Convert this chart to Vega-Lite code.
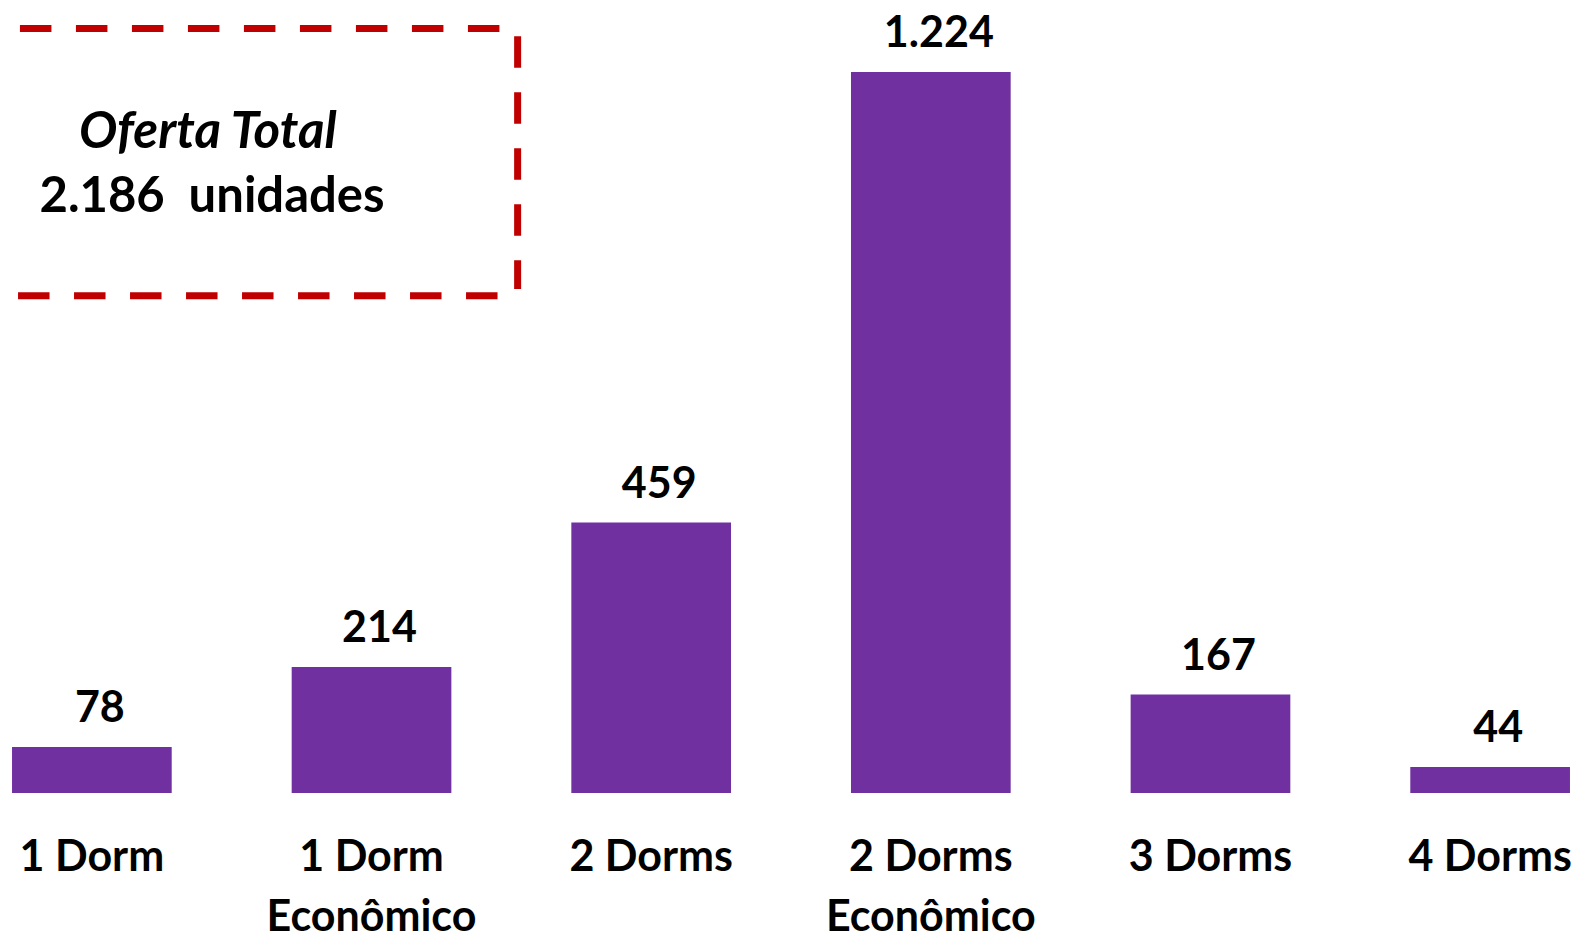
{
  "$schema": "https://vega.github.io/schema/vega-lite/v6.json",
  "width": 1582,
  "height": 793,
  "autosize": {"type": "none"},
  "padding": {"left": 0, "top": 0, "right": 0, "bottom": 139},
  "background": "white",
  "config": {"view": {"stroke": null}, "font": "Lato"},
  "datasets": {
    "bars": [
      {"cat": "1 Dorm", "value": 78, "label": "78"},
      {"cat": "1 Dorm|Econômico", "value": 214, "label": "214"},
      {"cat": "2 Dorms", "value": 459, "label": "459"},
      {"cat": "2 Dorms|Econômico", "value": 1224, "label": "1.224"},
      {"cat": "3 Dorms", "value": 167, "label": "167"},
      {"cat": "4 Dorms", "value": 44, "label": "44"}
    ],
    "box": [
      {"side": "top", "x1": 1.26, "x2": 31.75, "y1": 1297.6, "y2": 1297.6},
      {"side": "right", "x1": 32.72, "x2": 32.72, "y1": 1284.6, "y2": 855.3},
      {"side": "bottom", "x1": 1.14, "x2": 31.6, "y1": 844.1, "y2": 844.1}
    ],
    "title1": [{"x": 13.14, "y": 1095, "t": "Oferta Total"}],
    "title2": [{"x": 13.4, "y": 986, "t": "2.186\u00a0\u00a0unidades"}]
  },
  "layer": [
    {
      "data": {"name": "bars"},
      "encoding": {
        "x": {
          "field": "cat", "type": "nominal", "sort": null,
          "scale": {"paddingInner": 0.429, "paddingOuter": 0.043},
          "axis": {
            "title": null, "labelExpr": "split(datum.label, '|')",
            "labelFontSize": 43, "labelFont": "Lato", "labelFontWeight": "bold",
            "labelColor": "black", "labelAngle": 0, "labelLineHeight": 60,
            "labelPadding": 43, "labelBaseline": "top", "domain": false,
            "ticks": false, "labelLimit": 0, "grid": false
          }
        },
        "y": {
          "field": "value", "type": "quantitative",
          "scale": {"domain": [0, 1346], "nice": false, "zero": true},
          "axis": null
        }
      },
      "layer": [
        {"mark": {"type": "bar", "color": "#7030A0"}},
        {
          "mark": {"type": "text", "dy": -25, "dx": 8, "baseline": "alphabetic", "fontSize": 43, "fontWeight": "bold", "font": "Lato", "color": "black"},
          "encoding": {"text": {"field": "label"}}
        }
      ]
    },
    {
      "data": {"name": "box"},
      "mark": {"type": "rule", "stroke": "#C00000", "strokeWidth": 7, "strokeDash": [31.5, 24.5], "strokeCap": "butt"},
      "encoding": {
        "x": {"field": "x1", "type": "quantitative", "scale": {"domain": [0, 100], "nice": false}, "axis": null},
        "x2": {"field": "x2"},
        "y": {"field": "y1", "type": "quantitative", "scale": {"domain": [0, 1346], "nice": false}, "axis": null},
        "y2": {"field": "y2"},
        "detail": {"field": "side"}
      }
    },
    {
      "data": {"name": "title1"},
      "mark": {"type": "text", "baseline": "alphabetic", "align": "center", "fontSize": 51, "fontWeight": "bold", "fontStyle": "italic", "font": "Lato", "color": "black"},
      "encoding": {
        "x": {"field": "x", "type": "quantitative", "scale": {"domain": [0, 100], "nice": false}, "axis": null},
        "y": {"field": "y", "type": "quantitative", "scale": {"domain": [0, 1346], "nice": false}, "axis": null},
        "text": {"field": "t"}
      }
    },
    {
      "data": {"name": "title2"},
      "mark": {"type": "text", "baseline": "alphabetic", "align": "center", "fontSize": 49, "fontWeight": "bold", "font": "Lato", "color": "black"},
      "encoding": {
        "x": {"field": "x", "type": "quantitative", "scale": {"domain": [0, 100], "nice": false}, "axis": null},
        "y": {"field": "y", "type": "quantitative", "scale": {"domain": [0, 1346], "nice": false}, "axis": null},
        "text": {"field": "t"}
      }
    }
  ],
  "resolve": {"scale": {"x": "independent"}}
}
